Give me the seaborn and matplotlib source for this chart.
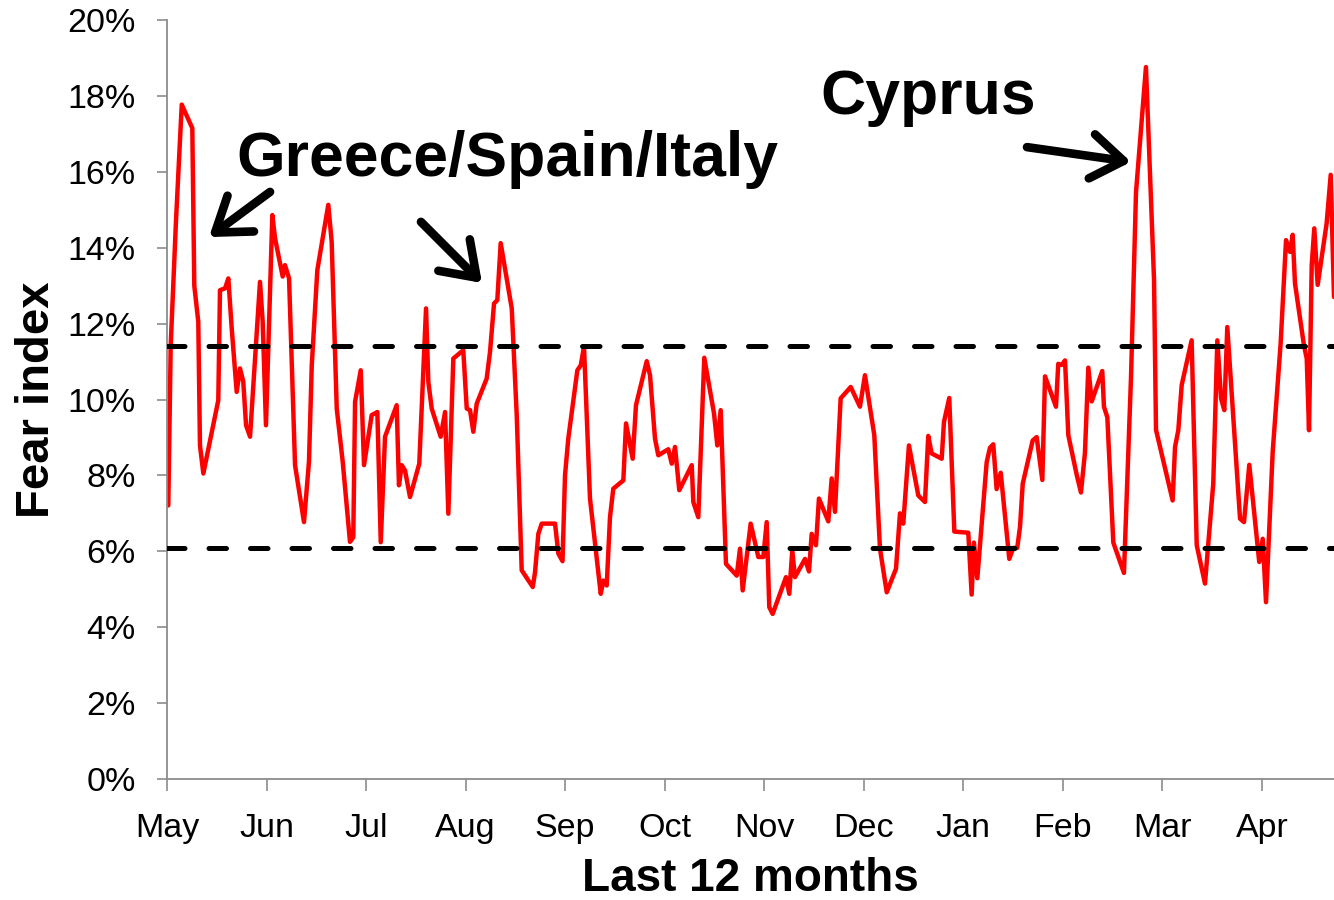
import matplotlib
matplotlib.use("Agg")
import matplotlib.pyplot as plt
import seaborn as sns
import pandas as pd
from matplotlib.ticker import PercentFormatter, FixedLocator

# ---- data (x: months since 1 May, y: fear index in percent) ----
months_x = [0.013, 0.037, 0.090, 0.148, 0.254, 0.274, 0.314, 0.331, 0.365, 0.515,
            0.532, 0.583, 0.616, 0.650, 0.700, 0.733, 0.766, 0.794, 0.834, 0.934,
            0.961, 0.994, 1.058, 1.085, 1.162, 1.185, 1.226, 1.286, 1.376, 1.426,
            1.454, 1.510, 1.620, 1.654, 1.705, 1.765, 1.838, 1.871, 1.889, 1.946,
            1.979, 2.056, 2.113, 2.147, 2.190, 2.307, 2.330, 2.358, 2.391, 2.441,
            2.534, 2.602, 2.625, 2.659, 2.749, 2.793, 2.826, 2.876, 2.976, 3.011,
            3.044, 3.077, 3.111, 3.211, 3.245, 3.285, 3.318, 3.352, 3.463, 3.513,
            3.563, 3.674, 3.697, 3.730, 3.764, 3.898, 3.931, 3.973, 3.998, 4.031,
            4.122, 4.156, 4.189, 4.249, 4.357, 4.383, 4.417, 4.450, 4.483, 4.584,
            4.611, 4.678, 4.711, 4.819, 4.852, 4.902, 4.935, 5.036, 5.070, 5.103,
            5.146, 5.271, 5.287, 5.337, 5.397, 5.495, 5.528, 5.562, 5.615, 5.723,
            5.756, 5.783, 5.863, 5.940, 5.990, 6.024, 6.050, 6.084, 6.218, 6.251,
            6.281, 6.308, 6.409, 6.449, 6.476, 6.519, 6.549, 6.643, 6.677, 6.710,
            6.767, 6.868, 6.961, 7.011, 7.105, 7.162, 7.230, 7.323, 7.363, 7.396,
            7.453, 7.547, 7.614, 7.647, 7.681, 7.782, 7.805, 7.858, 7.909, 8.049,
            8.083, 8.106, 8.140, 8.234, 8.267, 8.300, 8.334, 8.375, 8.461, 8.501,
            8.541, 8.569, 8.596, 8.696, 8.736, 8.793, 8.820, 8.930, 8.953, 8.988,
            9.021, 9.054, 9.138, 9.181, 9.221, 9.255, 9.289, 9.395, 9.412, 9.446,
            9.506, 9.613, 9.684, 9.734, 9.834, 9.915, 9.935, 10.102, 10.126, 10.159,
            10.193, 10.293, 10.344, 10.427, 10.510, 10.551, 10.588, 10.621, 10.651, 10.779,
            10.819, 10.872, 10.972, 11.007, 11.040, 11.107, 11.187, 11.241, 11.281, 11.308,
            11.331, 11.421, 11.449, 11.472, 11.499, 11.525, 11.559, 11.649, 11.690, 11.723]

fear_pct = [7.21, 11.43, 14.7, 17.77, 17.15, 13.0, 12.05, 8.79, 8.05, 9.98,
            12.88, 12.93, 13.19, 11.87, 10.2, 10.82, 10.47, 9.32, 9.02, 13.1,
            12.05, 9.32, 14.86, 14.25, 13.24, 13.54, 13.19, 8.27, 6.77, 8.36,
            10.9, 13.41, 15.13, 14.16, 9.76, 8.36, 6.25, 6.37, 9.94, 10.77,
            8.27, 9.59, 9.67, 6.24, 9.02, 9.85, 7.74, 8.27, 8.13, 7.43,
            8.31, 12.4, 10.47, 9.76, 9.02, 9.67, 6.99, 11.08, 11.30, 9.76,
            9.72, 9.15, 9.89, 10.55, 11.26, 12.53, 12.62, 14.12, 12.4, 9.59,
            5.50, 5.06, 5.45, 6.46, 6.73, 6.73, 5.94, 5.74, 8.0, 8.97,
            10.77, 10.9, 11.39, 7.39, 4.88, 5.23, 5.1, 6.9, 7.65, 7.87,
            9.37, 8.44, 9.85, 11.01, 10.64, 8.97, 8.53, 8.69, 8.31, 8.75,
            7.61, 8.27, 7.3, 6.9, 11.1, 9.63, 8.79, 9.72, 5.67, 5.36,
            6.07, 4.97, 6.73, 5.85, 5.85, 6.77, 4.53, 4.35, 5.32, 4.88,
            6.02, 5.32, 5.8, 5.47, 6.46, 6.16, 7.39, 6.79, 7.92, 7.04,
            10.03, 10.33, 9.81, 10.64, 9.06, 6.07, 4.92, 5.54, 7.0, 6.73,
            8.79, 7.47, 7.3, 9.04, 8.58, 8.44, 9.41, 10.04, 6.52, 6.49,
            4.86, 6.23, 5.29, 8.35, 8.73, 8.82, 7.64, 8.07, 5.80, 6.09,
            6.09, 6.65, 7.78, 8.92, 9.01, 7.88, 10.61, 9.81, 10.94, 10.91,
            11.03, 9.06, 8.02, 7.55, 8.59, 10.84, 9.95, 10.75, 9.81, 9.53,
            6.23, 5.43, 10.6, 15.46, 18.76, 13.16, 9.20, 7.34, 8.75, 9.19,
            10.38, 11.56, 6.16, 5.15, 7.78, 11.56, 10.03, 9.72, 11.91, 6.86,
            6.77, 8.28, 5.72, 6.33, 4.66, 8.62, 11.48, 14.2, 13.89, 14.34,
            13.06, 11.43, 11.08, 9.19, 13.54, 14.51, 13.02, 14.64, 15.92, 12.7]

month_labels = ["May", "Jun", "Jul", "Aug", "Sep", "Oct", "Nov", "Dec",
                "Jan", "Feb", "Mar", "Apr"]
band_levels = [0.114, 0.061]

annot_texts = ["Greece/Spain/Italy", "Cyprus"]
annot_text_xy = [(3.415, 0.1589), (7.644, 0.1752)]
arrow_tails = [(1.035, 0.1547), (2.551, 0.1468), (8.639, 0.1665)]
arrow_heads = [(0.422, 0.1428), (3.164, 0.1307), (9.684, 0.1626)]

df = pd.DataFrame({"month": months_x, "fear": [v / 100 for v in fear_pct]})

# ---- style ----
sns.set_theme(style="white")
plt.rcParams["font.family"] = ["Liberation Sans", "DejaVu Sans"]

fig = plt.figure(figsize=(13.34, 9.0), dpi=100)
ax = fig.add_axes([0.1252, 0.1344, 1.0 - 0.1252, 0.9778 - 0.1344])

sns.lineplot(data=df, x="month", y="fear", ax=ax, color="#FF0000",
             linewidth=3.2, sort=False, estimator=None)

for lvl in band_levels:
    ax.axhline(lvl, color="black", linewidth=3.6, dashes=(3.5, 4.8),
               dash_capstyle="round", zorder=3)

ax.set_xlim(0, months_x[-1])
ax.set_ylim(0, 0.20)

ax.xaxis.set_major_locator(FixedLocator(range(len(month_labels))))
ax.set_xticklabels(month_labels)
ax.set_yticks([i / 100 for i in range(0, 21, 2)])
ax.yaxis.set_major_formatter(PercentFormatter(1.0, decimals=0))

grey = "#8c8c8c"
for side in ["top", "right"]:
    ax.spines[side].set_visible(False)
for side in ["left", "bottom"]:
    ax.spines[side].set_color(grey)
    ax.spines[side].set_linewidth(1.3)

ax.tick_params(axis="y", which="major", direction="out", length=7.5, width=1.2,
               color=grey, labelsize=24.5, labelcolor="black", pad=15, left=True)
ax.tick_params(axis="x", which="major", direction="out", length=8.5, width=1.2,
               color=grey, labelsize=24.5, labelcolor="black", pad=16, bottom=True)

ax.set_xlabel("Last 12 months", fontsize=33, fontweight="bold", color="black")
ax.set_ylabel("Fear index", fontsize=34, fontweight="bold", color="black")
ax.xaxis.label.set_va("center")
ax.yaxis.label.set_va("center")
ax.xaxis.set_label_coords(0.5, -0.132)
ax.yaxis.set_label_coords(-0.111, 0.5)

for txt, (tx, ty) in zip(annot_texts, annot_text_xy):
    ax.text(tx, ty, txt, fontsize=45, fontweight="bold", color="black",
            ha="center", va="baseline")

for (x0, y0), (x1, y1) in zip(arrow_tails, arrow_heads):
    ax.annotate("", xy=(x1, y1), xytext=(x0, y0),
                arrowprops=dict(arrowstyle="->,head_length=1.15,head_width=0.8",
                                lw=6.2, color="black", shrinkA=0, shrinkB=0,
                                mutation_scale=20, capstyle="round",
                                joinstyle="round"))

fig.savefig("out.png", dpi=100)
